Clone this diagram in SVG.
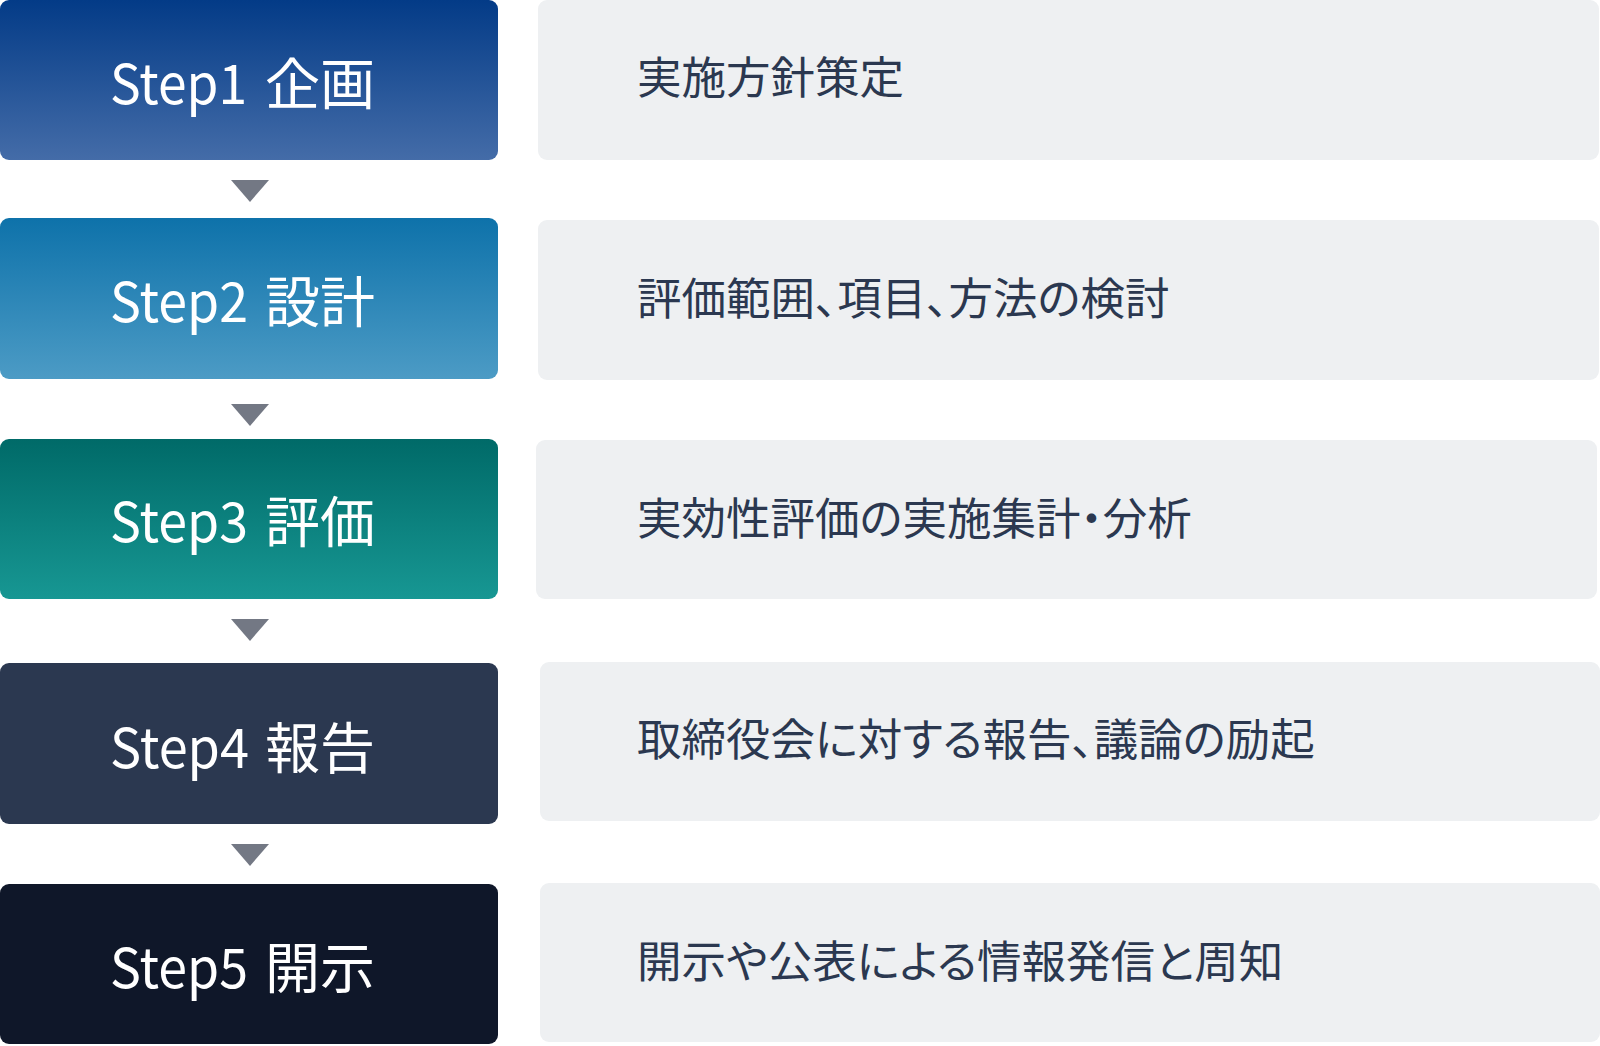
<svg xmlns="http://www.w3.org/2000/svg" width="1600" height="1046" viewBox="0 0 1600 1046">
<defs>
<linearGradient id="g1" x1="0" y1="0" x2="0" y2="1"><stop offset="0" stop-color="#033b87"/><stop offset="1" stop-color="#446ca8"/></linearGradient>
<linearGradient id="g2" x1="0" y1="0" x2="0" y2="1"><stop offset="0" stop-color="#0e72aa"/><stop offset="1" stop-color="#4c9bc5"/></linearGradient>
<linearGradient id="g3" x1="0" y1="0" x2="0" y2="1"><stop offset="0" stop-color="#006a68"/><stop offset="1" stop-color="#179793"/></linearGradient>
<style>
.step{font-family:"Noto Sans CJK JP","Noto Sans",sans-serif;font-size:55px;fill:#ffffff;dominant-baseline:central}
.desc{font-family:"Noto Sans CJK JP","Noto Sans",sans-serif;font-size:44.5px;fill:#2b3850;dominant-baseline:central;font-feature-settings:"palt"}
.panel{fill:#eef0f2}
.arrow{fill:#737884}
</style>
</defs>
<rect width="1600" height="1046" fill="#ffffff"/>
<g id="step1">
<rect x="0" y="0" width="498" height="160" rx="9" fill="url(#g1)"/>
<text class="step" x="110" y="80"><tspan textLength="137" lengthAdjust="spacingAndGlyphs">Step1</tspan><tspan x="265">企画</tspan></text>
</g>
<g id="desc1">
<rect class="panel" x="538" y="0" width="1061" height="160" rx="9"/>
<text class="desc" x="637" y="74">実施方針策定</text>
</g>
<g id="step2">
<rect x="0" y="218" width="498" height="161" rx="9" fill="url(#g2)"/>
<text class="step" x="110" y="298"><tspan textLength="138" lengthAdjust="spacingAndGlyphs">Step2</tspan><tspan x="265">設計</tspan></text>
</g>
<g id="desc2">
<rect class="panel" x="538" y="220" width="1061" height="160" rx="9"/>
<text class="desc" x="637" y="295">評価範囲、項目、方法の検討</text>
</g>
<g id="step3">
<rect x="0" y="439" width="498" height="160" rx="9" fill="url(#g3)"/>
<text class="step" x="110" y="518"><tspan textLength="138" lengthAdjust="spacingAndGlyphs">Step3</tspan><tspan x="265">評価</tspan></text>
</g>
<g id="desc3">
<rect class="panel" x="536" y="440" width="1061" height="159" rx="9"/>
<text class="desc" x="637" y="515">実効性評価の実施集計・分析</text>
</g>
<g id="step4">
<rect x="0" y="663" width="498" height="161" rx="9" fill="#2b3850"/>
<text class="step" x="110" y="744"><tspan textLength="139" lengthAdjust="spacingAndGlyphs">Step4</tspan><tspan x="265">報告</tspan></text>
</g>
<g id="desc4">
<rect class="panel" x="540" y="662" width="1060" height="159" rx="9"/>
<text class="desc" x="637" y="736">取締役会に対する報告、議論の励起</text>
</g>
<g id="step5">
<rect x="0" y="884" width="498" height="160" rx="9" fill="#0f1729"/>
<text class="step" x="110" y="964"><tspan textLength="138" lengthAdjust="spacingAndGlyphs">Step5</tspan><tspan x="265">開示</tspan></text>
</g>
<g id="desc5">
<rect class="panel" x="540" y="883" width="1060" height="159" rx="9"/>
<text class="desc" x="637" y="958">開示や公表による情報発信と周知</text>
</g>
<g id="connectors">
<polygon class="arrow" points="231,180 269,180 250,202"/>
<polygon class="arrow" points="231,404 269,404 250,426"/>
<polygon class="arrow" points="231,619 269,619 250,641"/>
<polygon class="arrow" points="231,844 269,844 250,866"/>
</g>
</svg>
